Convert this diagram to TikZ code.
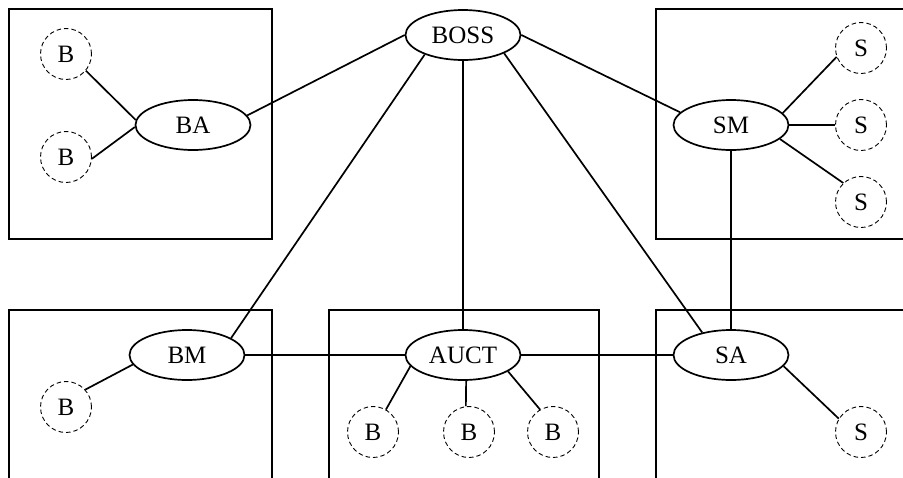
\documentclass[tikz,border=0pt]{standalone}
\usepackage{fontspec}
\setmainfont{Liberation Serif}
\usetikzlibrary{shapes.geometric}
\begin{document}
\begin{tikzpicture}[x=1pt,y=-1pt,
  agent/.style={ellipse,draw,line width=1.7pt,minimum width=115pt,minimum height=50pt,
    inner sep=0pt,font=\fontsize{25}{30}\selectfont},
  party/.style={circle,draw,line width=0.9pt,dash pattern=on 4.5pt off 3pt,
    minimum size=51pt,inner sep=0pt,font=\fontsize{25}{30}\selectfont},
  group/.style={draw,line width=1.7pt},
  link/.style={line width=1.7pt}]
\useasboundingbox (0,0) rectangle (903,477);
\clip (0,0) rectangle (903,477);

% domain frames
\draw[group] (9,9) rectangle (272,239);
\draw[group] (656,9) rectangle (930,239);
\draw[group] (9,310) rectangle (272,500);
\draw[group] (329,310) rectangle (599,500);
\draw[group] (656,310) rectangle (930,500);

% agents
\node[agent] (boss) at (463,35) {BOSS};
\node[agent] (ba)   at (193,125) {BA};
\node[agent] (sm)   at (731,125) {SM};
\node[agent] (bm)   at (187,355) {BM};
\node[agent] (auct) at (463,355) {AUCT};
\node[agent] (sa)   at (731,355) {SA};

% buyers and sellers
\node[party] (b1) at (66,54)  {B};
\node[party] (b2) at (66,157) {B};
\node[party] (s1) at (861,48)  {S};
\node[party] (s2) at (861,125) {S};
\node[party] (s3) at (861,202) {S};
\node[party] (b3) at (66,407)  {B};
\node[party] (b4) at (373,432) {B};
\node[party] (b5) at (469,432) {B};
\node[party] (b6) at (553,432) {B};
\node[party] (s4) at (861,432) {S};

% links between agents
\draw[link] (ba.10) -- (boss.west);
\draw[link] (boss.207) -- (bm.21);
\draw[link] (boss.south) -- (auct.north);
\draw[link] (boss.-24) -- (sa.142);
\draw[link] (boss.east) -- (sm.166);
\draw[link] (sm.south) -- (sa.north);
\draw[link] (bm.east) -- (auct.west);
\draw[link] (auct.east) -- (sa.west);

% links to buyers and sellers
\draw[link] (b1.-40) -- (ba.175);
\draw[link] (b2.-4) -- (ba.182);
\draw[link] (sm.13) -- (s1.200);
\draw[link] (sm.east) -- (s2.west);
\draw[link] (sm.-16) -- (s3.133);
\draw[link] (bm.190) -- (b3.42);
\draw[link] (auct.192) -- (b4.60);
\draw[link] (auct.-83) -- (b5.97);
\draw[link] (auct.-20) -- (b6.120);
\draw[link] (sa.-12) -- (s4.149);
\end{tikzpicture}
\end{document}
